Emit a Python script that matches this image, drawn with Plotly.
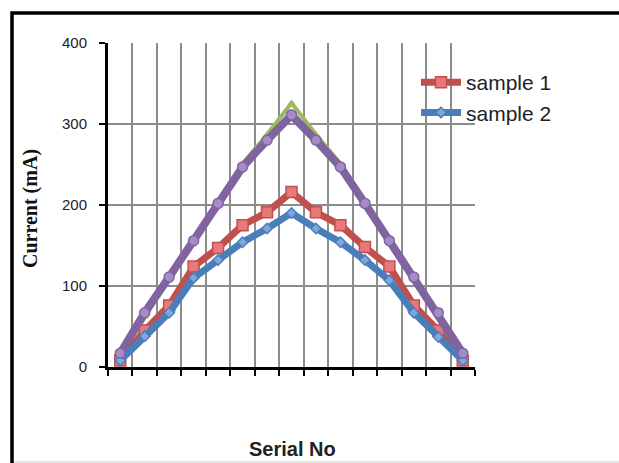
import plotly.graph_objects as go

serial = list(range(1, 16))
sample1 = [8, 45, 76, 124, 147, 175, 191, 216, 191, 175, 148, 124, 76, 45, 8]
sample2 = [8, 38, 67, 110, 132, 154, 171, 190, 171, 154, 132, 107, 67, 37, 8]
series3 = [12, 62, 110, 158, 205, 251, 287, 326, 287, 251, 205, 158, 110, 62, 12]
series4 = [17, 67, 111, 156, 202, 247, 280, 311, 280, 247, 202, 156, 111, 67, 17]

W, H = 619, 463
L, R, T, B = 108, 475, 43, 367
pw, ph = R - L, B - T

def px2x(p):
    return (p - L) / pw

def py2y(p):
    return (B - p) / ph

fig = go.Figure()

fig.add_trace(go.Scatter(x=serial, y=series3, mode="lines+markers", showlegend=False,
                         line=dict(color="#9BBB59", width=4),
                         marker=dict(symbol="triangle-up", size=7, color="#9BBB59")))
fig.add_trace(go.Scatter(x=serial, y=sample1, mode="lines+markers", name="sample 1",
                         legendgroup="a",
                         line=dict(color="#C0504D", width=7),
                         marker=dict(symbol="square", size=11, color="#E8787A",
                                     line=dict(color="#C0504D", width=1.5))))
fig.add_trace(go.Scatter(x=serial, y=sample2, mode="lines+markers", name="sample 2",
                         legendgroup="b",
                         line=dict(color="#4A7EBB", width=7),
                         marker=dict(symbol="diamond", size=8, color="#7FA8DA",
                                     line=dict(color="#4A7EBB", width=1.5))))
fig.add_trace(go.Scatter(x=serial, y=series4, mode="lines+markers", showlegend=False,
                         line=dict(color="#8064A2", width=8),
                         marker=dict(symbol="circle", size=10, color="#A58BC7",
                                     line=dict(color="#8064A2", width=1.5))))

bounds = [s - 0.5 for s in serial] + [serial[-1] + 0.5]

fig.update_xaxes(range=[serial[0] - 0.5, serial[-1] + 0.5], tickmode="array",
                 tickvals=bounds, ticktext=[""] * len(bounds),
                 showgrid=True, gridcolor="#8C8C8C", gridwidth=2,
                 ticks="outside", ticklen=6, tickwidth=2, tickcolor="black",
                 showline=True, linecolor="black", linewidth=3, zeroline=False)
fig.update_yaxes(range=[0, 400], tickvals=[0, 100, 200, 300, 400],
                 showgrid=True, gridcolor="#8C8C8C", gridwidth=2,
                 ticks="outside", ticklen=6, tickwidth=2, tickcolor="black",
                 showline=True, linecolor="black", linewidth=3, zeroline=False,
                 tickfont=dict(family="Liberation Sans, Arial", size=15, color="#222"),
                 ticklabelstandoff=9)

fig.add_annotation(text="<b>Current (mA)</b>", xref="paper", yref="paper",
                   x=px2x(30), y=py2y(209), xanchor="center", yanchor="middle",
                   textangle=-90, showarrow=False,
                   font=dict(family="Liberation Serif, Times New Roman", size=20, color="#111"))
fig.add_annotation(text="<b>Serial No</b>", xref="paper", yref="paper",
                   x=px2x(292), y=py2y(449), xanchor="center", yanchor="middle",
                   showarrow=False,
                   font=dict(family="Liberation Sans, Arial", size=20, color="#222"))

fig.add_shape(type="rect", xref="paper", yref="paper",
              x0=px2x(12), x1=px2x(660), y0=py2y(470), y1=py2y(13),
              line=dict(color="black", width=3.5), fillcolor="rgba(0,0,0,0)", layer="below")
fig.add_shape(type="line", xref="paper", yref="paper",
              x0=px2x(14), x1=px2x(640), y0=py2y(462), y1=py2y(462),
              line=dict(color="#DDDDDD", width=1.5), layer="below")

fig.update_layout(
    width=W, height=H,
    margin=dict(l=L, r=W - R, t=T, b=H - B),
    paper_bgcolor="white", plot_bgcolor="white",
    font=dict(family="Liberation Sans, Arial", color="black"),
    legend=dict(x=px2x(416), y=py2y(62), xanchor="left", yanchor="top",
                bgcolor="rgba(0,0,0,0)", traceorder="grouped", tracegroupgap=0,
                font=dict(family="Liberation Sans, Arial", size=21, color="#222"),
                itemwidth=40),
)

fig.write_html("out.html")
